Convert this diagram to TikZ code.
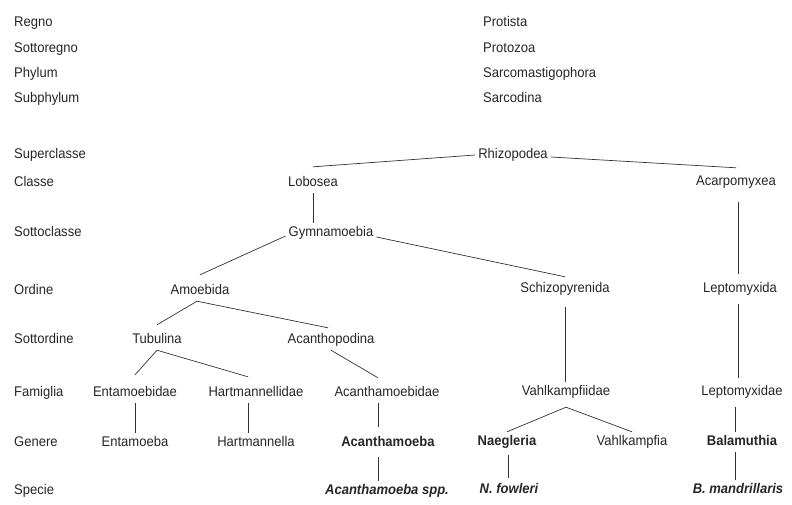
\documentclass[tikz,border=0pt]{standalone}
\usepackage{fontspec}
\setmainfont{Liberation Sans}[FakeStretch=0.93]
\begin{document}
\begin{tikzpicture}[x=1pt,y=-1pt,
  t/.style={text=black!85, inner xsep=3pt, inner ysep=4pt, text height=9.5pt, text depth=2.5pt, font=\fontsize{14}{16}\selectfont},
  lab/.style={t, anchor=west, inner xsep=0pt},
  b/.style={t, font=\fontsize{14}{16}\selectfont\bfseries},
  bi/.style={t, font=\fontsize{14}{16}\selectfont\bfseries\itshape},
  ln/.style={draw=black!80, line width=0.7pt}]
\useasboundingbox[fill=white] (0,0) rectangle (792,504);
% rank labels
\node[lab] (lr1) at (14,23) {Regno};
\node[lab] (lr2) at (14,49) {Sottoregno};
\node[lab] (lr3) at (14,74) {Phylum};
\node[lab] (lr4) at (14,99) {Subphylum};
\node[lab] (lr5) at (14,155) {Superclasse};
\node[lab] (lr6) at (14,183) {Classe};
\node[lab] (lr7) at (14,233) {Sottoclasse};
\node[lab] (lr8) at (14,291) {Ordine};
\node[lab] (lr9) at (14,340) {Sottordine};
\node[lab] (lr10) at (14,393) {Famiglia};
\node[lab] (lr11) at (14,443) {Genere};
\node[lab] (lr12) at (14,491) {Specie};
% top taxa
\node[lab] (prot) at (483,23) {Protista};
\node[lab] (proz) at (483,49) {Protozoa};
\node[lab] (sarm) at (483,74) {Sarcomastigophora};
\node[lab] (sard) at (483,99) {Sarcodina};
% tree
\node[t] (rhizo) at (513,155) {Rhizopodea};
\node[t] (lobo) at (313,183) {Lobosea};
\node[t] (acarp) at (736,182) {Acarpomyxea};
\node[t] (gymn) at (331,233) {Gymnamoebia};
\node[t] (amoe) at (200,291) {Amoebida};
\node[t] (schiz) at (565,289) {Schizopyrenida};
\node[t] (lepa) at (740,289) {Leptomyxida};
\node[t] (tubu) at (157,340) {Tubulina};
\node[t] (acpo) at (331,340) {Acanthopodina};
\node[t] (ent) at (135,393) {Entamoebidae};
\node[t] (hart) at (256,393) {Hartmannellidae};
\node[t] (acmd) at (387,393) {Acanthamoebidae};
\node[t] (vahl) at (566,392) {Vahlkampfiidae};
\node[t] (lepd) at (742,392) {Leptomyxidae};
\node[t] (entam) at (135,443) {Entamoeba};
\node[t] (hartm) at (256,443) {Hartmannella};
\node[b] (acg) at (388,443) {Acanthamoeba};
\node[b] (naeg) at (507,442) {Naegleria};
\node[t] (vahlk) at (632,442) {Vahlkampfia};
\node[b] (bal) at (742,442) {Balamuthia};
\node[bi] (acsp) at (387,491) {Acanthamoeba spp.};
\node[bi] (nfow) at (509,490) {N. fowleri};
\node[bi] (bman) at (738,490) {B. mandrillaris};
% connectors
\draw[ln] (rhizo.west) -- ([yshift=6pt]lobo.north);
\draw[ln] ([yshift=-2pt]rhizo.east) -- ([yshift=4pt]acarp.north);
\draw[ln] (lobo.south) -- (lobo.south |- gymn.north);
\draw[ln] ([yshift=-3pt]gymn.west) -- ([yshift=6pt]amoe.north);
\draw[ln] ([yshift=-4pt]gymn.east) -- ([yshift=2pt]schiz.north);
\draw[ln] ([xshift=2pt,yshift=-10pt]acarp.south) -- ([xshift=2pt,yshift=5pt]acarp.south |- lepa.north);
\draw[ln] ([xshift=-3pt]amoe.south) -- ([yshift=5pt]tubu.north);
\draw[ln] ([xshift=-3pt]amoe.south) -- ([xshift=-3pt,yshift=2pt]acpo.north);
\draw[ln] ([yshift=-8pt]schiz.south) -- (schiz.south |- vahl.north);
\draw[ln] ([xshift=-2pt,yshift=-5pt]lepa.south) -- ([xshift=-2pt,yshift=4pt]lepa.south |- lepd.north);
\draw[ln] (tubu.south) -- ([yshift=8pt]ent.north);
\draw[ln] (tubu.south) -- ([xshift=-8pt,yshift=6pt]hart.north);
\draw[ln] (acpo.south) -- ([xshift=-9pt,yshift=5pt]acmd.north);
\draw[ln] ([yshift=-5pt]vahl.south) -- (naeg.north);
\draw[ln] ([yshift=-5pt]vahl.south) -- (vahlk.north);
\draw[ln] ([xshift=-7pt,yshift=-5pt]lepd.south) -- ([xshift=-7pt]lepd.south |- bal.north);
\draw[ln] (ent.south) -- (ent.south |- entam.north);
\draw[ln] ([xshift=-8pt]hart.south) -- ([xshift=-8pt]hart.south |- hartm.north);
\draw[ln] ([xshift=-9pt]acmd.south) -- ([xshift=-9pt,yshift=6pt]acmd.south |- acg.north);
\draw[ln] ([xshift=-10pt,yshift=-4pt]acg.south) -- ([xshift=-10pt]acg.south |- acsp.north);
\draw[ln] ([xshift=1pt,yshift=-3pt]naeg.south) -- ([xshift=1pt,yshift=2pt]naeg.south |- nfow.north);
\draw[ln] ([xshift=-7pt]bal.south) -- ([xshift=-7pt]bal.south |- bman.north);
\end{tikzpicture}
\end{document}
